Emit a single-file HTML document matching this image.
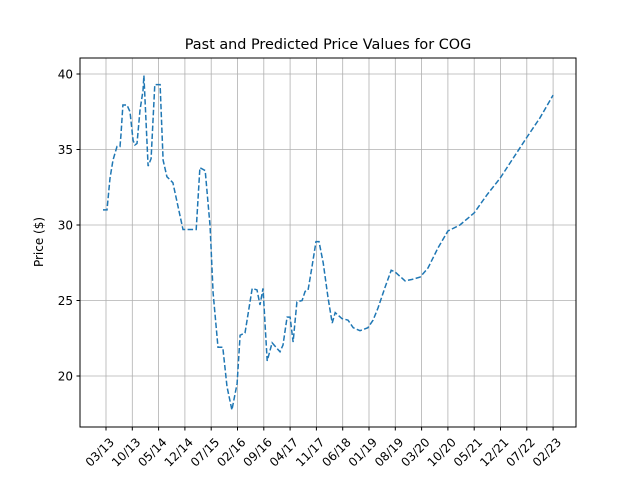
<!DOCTYPE html>
<html><head><meta charset="utf-8"><style>
body{margin:0;background:#fff;}
svg{font-family:"DejaVu Sans","Liberation Sans",sans-serif;}
</style></head><body>
<svg id="chart" width="640" height="480" viewBox="0 0 640 480">
<rect width="640" height="480" fill="#fff"/>
<text x="328" y="49" font-size="14.4" text-anchor="middle">Past and Predicted Price Values for COG</text>
<g id="grid"></g>
<g id="ticks"></g>
<path id="line" fill="none" stroke="#1f77b4" stroke-width="1.5" stroke-dasharray="5.5,2.4"/>
<rect x="80" y="58" width="496" height="369" fill="none" stroke="#000" stroke-width="1"/>
<text transform="translate(43,242) rotate(-90)" font-size="12" text-anchor="middle">Price ($)</text>
</svg>
<script>
const tickLabels = ["03/13","10/13","05/14","12/14","07/15","02/16","09/16","04/17","11/17","06/18","01/19","08/19","03/20","10/20","05/21","12/21","07/22","02/23"];
const yTicks = [20,25,30,35,40];
const months = [-0.8,0.27,1.06,1.86,2.93,3.73,4.0,4.5,5.6,6.4,7.2,7.7,8.25,9.05,9.85,10.1,11.2,12.0,13.0,14.4,15.2,16.2,17.8,19.2,20.5,24.0,25.0,26.4,27.7,28.5,29.8,31.1,32.2,33.5,34.9,35.7,37.0,38.9,40.2,41.0,41.8,42.9,44.2,46.3,47.1,48.2,49.0,49.8,50.8,52.2,53.0,53.8,54.8,55.9,56.7,57.8,59.1,60.2,61.0,62.8,64.4,65.8,67.6,69.7,71.1,72.4,74.3,75.9,76.9,79.6,81.5,83.6,85.7,88.4,91,94.2,98,101.4,104.9,108.3,112,115.5,119];
const prices = [31.0,31.0,33.1,34.3,35.2,35.2,36.0,37.95,37.95,37.5,35.6,35.3,35.4,37.6,38.9,39.9,33.9,34.4,39.3,39.3,34.3,33.2,32.8,31.2,29.7,29.7,33.8,33.6,29.9,25.5,21.9,21.9,19.3,17.75,19.5,22.7,22.85,25.8,25.7,24.7,25.8,21.0,22.2,21.6,22.05,23.9,23.9,22.25,24.9,25.0,25.6,25.7,27.2,28.9,28.9,27.5,25.2,23.5,24.2,23.8,23.7,23.2,23.0,23.2,23.7,24.5,25.9,27.0,26.9,26.3,26.4,26.55,27.15,28.5,29.6,30.0,30.8,32.0,33.1,34.4,35.8,37.1,38.6];
const NS="http://www.w3.org/2000/svg";
const xScale = m => 106 + m*(26.3/7);
const yScale = p => 74 + (40-p)*15.1;
const grid=document.getElementById('grid'), ticks=document.getElementById('ticks');
tickLabels.forEach((lab,i)=>{
  const x=xScale(i*7);
  const g=document.createElementNS(NS,'line');
  g.setAttribute('x1',x);g.setAttribute('x2',x);g.setAttribute('y1',58);g.setAttribute('y2',427);
  g.setAttribute('stroke','#b0b0b0');g.setAttribute('stroke-width','0.8');
  
  
  grid.appendChild(g);
  const t=document.createElementNS(NS,'line');
  t.setAttribute('x1',x);t.setAttribute('x2',x);t.setAttribute('y1',427);t.setAttribute('y2',430.5);t.setAttribute('stroke','#000');
  
  
  ticks.appendChild(t);
  const tx=document.createElementNS(NS,'text');
  tx.setAttribute('transform',`translate(${x+3},${437}) rotate(-45)`);
  tx.setAttribute('text-anchor','end');tx.setAttribute('font-size','12');tx.setAttribute('dy','0.7em');
  tx.textContent=lab;
  
  
  ticks.appendChild(tx);
});
yTicks.forEach(v=>{
  const y=yScale(v);
  const g=document.createElementNS(NS,'line');
  g.setAttribute('x1',80);g.setAttribute('x2',576);g.setAttribute('y1',y);g.setAttribute('y2',y);
  g.setAttribute('stroke','#b0b0b0');g.setAttribute('stroke-width','0.8');
  
  
  grid.appendChild(g);
  const t=document.createElementNS(NS,'line');
  t.setAttribute('x1',76.5);t.setAttribute('x2',80);t.setAttribute('y1',y);t.setAttribute('y2',y);t.setAttribute('stroke','#000');
  
  
  ticks.appendChild(t);
  const tx=document.createElementNS(NS,'text');
  tx.setAttribute('x',73);tx.setAttribute('y',y+4.5);tx.setAttribute('text-anchor','end');tx.setAttribute('font-size','12');
  tx.textContent=v;
  
  
  ticks.appendChild(tx);
});
document.getElementById('line').setAttribute('d',months.map((m,i)=>(i?'L':'M')+xScale(m).toFixed(1)+','+yScale(prices[i]).toFixed(1)).join(''));
</script>
</body></html>
